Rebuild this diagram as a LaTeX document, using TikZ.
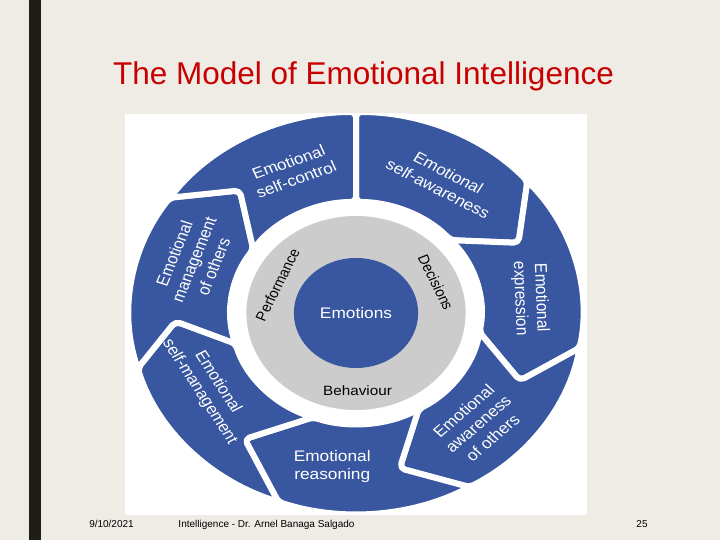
\documentclass[tikz,border=0pt]{standalone}
\usepackage{fontspec}
\setmainfont{Liberation Sans}
\definecolor{SlideBg}{RGB}{239,236,230}
\definecolor{SlideBar}{RGB}{30,30,20}
\definecolor{TitleRed}{RGB}{200,0,0}
\definecolor{RingBlue}{RGB}{56,87,160}
\definecolor{CoreGray}{RGB}{204,204,204}
\tikzset{
  segment/.style={fill=RingBlue,draw=white,line width=6pt,
    rounded corners=5pt,line join=round},
  seglabel/.style={text=white,align=center,inner sep=0pt,
    font=\fontsize{15.3}{18.5}\selectfont},
  corelabel/.style={text=black,inner sep=0pt,
    font=\fontsize{13.5}{16}\selectfont},
  footer/.style={anchor=base,inner sep=0pt,font=\fontsize{10}{12}\selectfont}
}
\newcommand{\rout}{201}
\newcommand{\rin}{111}
\newcommand{\rmid}{160}
\begin{document}
\begin{tikzpicture}[x=1pt,y=1pt]
      \fill[SlideBg] (0,0) rectangle (720,540);
      \useasboundingbox (0,0) rectangle (720,540);
      \fill[SlideBar] (28.5,0) rectangle (41.3,540);
      \fill[white] (125,25) rectangle (587,426);

      \node[anchor=base,text=TitleRed,font=\fontsize{31.5}{36}\selectfont]
        (title) at (363.5,455) {The Model of Emotional Intelligence};

      \begin{scope}
        \clip (125,25) rectangle (587,426);
        \begin{scope}[shift={(356,227)},xscale=1.13,transform shape]
          % outer ring, clockwise
          \foreach \a/\ta/\b/\tb in {90/90/41/26,41/26/-10/-25,-10/-25/-60/-76,
              -60/-76/-110/-128,-110/-128/-164/-177,196/183/145/130,145/130/90/90}
            \draw[segment] (\a:\rout) arc[start angle=\a,end angle=\b,radius=\rout]
              -- (\tb:\rmid) -- (\b:\rin) arc[start angle=\b,end angle=\a,radius=\rin]
              -- (\ta:\rmid) -- cycle;

          \node[circle,fill=CoreGray,minimum size=194,inner sep=0pt] (core) at (0,0) {};
          \node[circle,fill=RingBlue,minimum size=110,inner sep=0pt,text=white,
            font=\fontsize{15.3}{18}\selectfont] (emotions) at (0,0) {Emotions};

          \node[corelabel,rotate=66] (performance) at (157.9:75) {Performance};
          \node[corelabel,rotate=-66] (decisions) at (23.4:77) {Decisions};
          \node[corelabel] (behaviour) at (-89:78) {Behaviour};

          \node[seglabel,rotate=21.6] (selfcontrol) at (111.6:153)
            {Emotional\\self-control};
          \node[seglabel,rotate=-30] (selfaware) at (59.7:153)
            {Emotional\\self-awareness};
          \node[seglabel,rotate=-88] (expression) at (5.5:155)
            {Emotional\\expression};
          \node[seglabel,rotate=44] (awareothers) at (-45.8:155)
            {Emotional\\awareness\\of others};
          \node[seglabel] (reasoning) at (-97.8:155)
            {Emotional\\reasoning};
          \node[seglabel,rotate=-60] (selfmanage) at (-150.4:150)
            {Emotional\\self-management};
          \node[seglabel,rotate=70] (manageothers) at (159.7:153)
            {Emotional\\management\\of others};
        \end{scope}
      \end{scope}

      \node[footer] (date) at (111.5,12) {9/10/2021};
      \node[footer] (author) at (266.5,12) {Intelligence - Dr. Arnel Banaga Salgado};
      \node[footer] (page) at (642,12) {25};
    \end{tikzpicture}
\end{document}
